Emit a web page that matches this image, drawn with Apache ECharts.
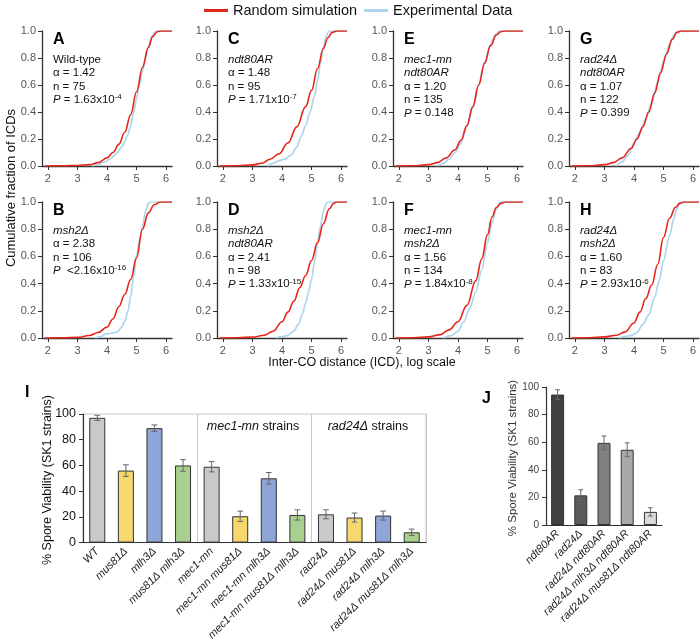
<!DOCTYPE html>
<html>
<head>
<meta charset="utf-8">
<script src="https://cdn.jsdelivr.net/npm/echarts@6/dist/echarts.min.js"></script>
<style>
html, body { margin: 0; padding: 0; background: #fff; }
#chart { width: 700px; height: 643px; }
</style>
</head>
<body>
<div id="chart"></div>
<script>
// cumulative fraction of ICDs, points are [log ICD, fraction]
var simA = [[1.9,0],[2.5,0.001],[3,0.004],[3.4,0.01],[3.7,0.025],[4,0.06],[4.2,0.1],[4.4,0.16],[4.6,0.25],[4.8,0.38],[5,0.55],[5.2,0.73],[5.4,0.88],[5.55,0.96],[5.7,0.995],[5.85,1],[6.2,1]];
var expA = [[3.5,0],[3.7,0.01],[3.9,0.03],[4.1,0.05],[4.3,0.09],[4.5,0.14],[4.6,0.18],[4.7,0.23],[4.8,0.3],[4.9,0.4],[5,0.5],[5.1,0.6],[5.2,0.7],[5.3,0.8],[5.4,0.88],[5.5,0.95],[5.6,0.99],[5.7,1],[6.2,1]];
var simC = [[1.9,0],[2.5,0.002],[3,0.008],[3.3,0.02],[3.6,0.05],[3.9,0.09],[4.2,0.17],[4.5,0.29],[4.8,0.44],[5,0.56],[5.2,0.72],[5.4,0.87],[5.55,0.95],[5.7,0.99],[5.85,1],[6.2,1]];
var expC = [[3.5,0],[3.7,0.02],[3.9,0.04],[4.1,0.05],[4.3,0.08],[4.5,0.14],[4.65,0.22],[4.8,0.3],[4.95,0.4],[5.1,0.52],[5.2,0.63],[5.3,0.76],[5.4,0.88],[5.5,0.96],[5.58,1],[6.2,1]];
var simE = [[1.9,0],[2.5,0.002],[3,0.01],[3.3,0.025],[3.6,0.06],[3.9,0.12],[4.1,0.19],[4.3,0.3],[4.5,0.44],[4.7,0.6],[4.9,0.76],[5.1,0.89],[5.3,0.97],[5.45,0.995],[5.6,1],[6.2,1]];
var expE = [[3.3,0],[3.5,0.02],[3.7,0.05],[3.9,0.1],[4.1,0.17],[4.3,0.29],[4.5,0.43],[4.7,0.6],[4.9,0.77],[5.1,0.9],[5.25,0.97],[5.4,1],[6.2,1]];
var simG = [[1.9,0],[2.5,0.002],[3,0.01],[3.3,0.025],[3.6,0.06],[3.9,0.13],[4.1,0.2],[4.3,0.29],[4.5,0.4],[4.7,0.54],[4.9,0.69],[5.1,0.83],[5.3,0.94],[5.45,0.99],[5.6,1],[6.2,1]];
var expG = [[3.4,0],[3.6,0.03],[3.8,0.08],[4,0.17],[4.2,0.25],[4.4,0.35],[4.6,0.47],[4.8,0.62],[5,0.77],[5.2,0.9],[5.35,0.97],[5.5,1],[6.2,1]];
var simB = [[1.9,0],[2.5,0.001],[3,0.005],[3.4,0.018],[3.7,0.04],[4,0.08],[4.2,0.14],[4.4,0.23],[4.6,0.32],[4.8,0.43],[5,0.59],[5.2,0.8],[5.4,0.92],[5.6,0.98],[5.8,1],[6.2,1]];
var expB = [[3.6,0],[3.8,0.01],[3.95,0.03],[4.15,0.035],[4.35,0.045],[4.5,0.08],[4.6,0.12],[4.7,0.19],[4.8,0.3],[4.9,0.45],[5,0.6],[5.1,0.72],[5.2,0.82],[5.3,0.93],[5.4,0.99],[5.45,1],[6.2,1]];
var simD = [[1.9,0],[2.5,0.002],[3,0.007],[3.4,0.02],[3.7,0.05],[4,0.12],[4.2,0.19],[4.4,0.27],[4.6,0.37],[4.8,0.46],[5,0.57],[5.2,0.7],[5.4,0.84],[5.6,0.95],[5.75,0.99],[5.85,1],[6.2,1]];
var expD = [[3.8,0],[4,0.01],[4.2,0.02],[4.4,0.05],[4.55,0.1],[4.7,0.18],[4.8,0.26],[4.9,0.34],[5,0.43],[5.1,0.56],[5.2,0.7],[5.3,0.82],[5.4,0.93],[5.5,0.99],[5.55,1],[6.2,1]];
var simF = [[1.9,0],[2.5,0.002],[3,0.008],[3.4,0.025],[3.7,0.06],[4,0.12],[4.3,0.24],[4.6,0.42],[4.8,0.58],[5,0.76],[5.15,0.89],[5.3,0.96],[5.45,0.99],[5.6,1],[6.2,1]];
var expF = [[3.5,0],[3.8,0.02],[4,0.05],[4.2,0.12],[4.4,0.22],[4.6,0.34],[4.8,0.5],[5,0.7],[5.15,0.85],[5.3,0.95],[5.45,1],[6.2,1]];
var simH = [[1.9,0],[2.5,0.002],[3,0.008],[3.4,0.02],[3.7,0.045],[4,0.11],[4.2,0.19],[4.4,0.29],[4.6,0.39],[4.8,0.54],[5,0.74],[5.2,0.88],[5.4,0.96],[5.55,0.99],[5.7,1],[6.2,1]];
var expH = [[3.5,0],[3.7,0.01],[3.9,0.02],[4.1,0.04],[4.3,0.1],[4.5,0.17],[4.7,0.3],[4.85,0.42],[5,0.57],[5.2,0.75],[5.35,0.88],[5.45,0.95],[5.55,1],[6.2,1]];

var icdTicks = [2, 3, 4, 5, 6];

// panel order: top row A C E G, bottom row B D F H
var panelLetters = ['A', 'C', 'E', 'G', 'B', 'D', 'F', 'H'];
var simData = [simA, simC, simE, simG, simB, simD, simF, simH];
var expData = [expA, expC, expE, expG, expB, expD, expF, expH];
var panelText = [
    ['Wild-type', 'α = 1.42', 'n = 75', '{i|P} = 1.63x10{s|-4}'],
    ['{i|ndt80AR}', 'α = 1.48', 'n = 95', '{i|P} = 1.71x10{s|-7}'],
    ['{i|mec1-mn}', '{i|ndt80AR}', 'α = 1.20', 'n = 135', '{i|P} = 0.148'],
    ['{i|rad24Δ}', '{i|ndt80AR}', 'α = 1.07', 'n = 122', '{i|P} = 0.399'],
    ['{i|msh2Δ}', 'α = 2.38', 'n = 106', '{i|P}  <2.16x10{s|-16}'],
    ['{i|msh2Δ}', '{i|ndt80AR}', 'α = 2.41', 'n = 98', '{i|P} = 1.33x10{s|-15}'],
    ['{i|mec1-mn}', '{i|msh2Δ}', 'α = 1.56', 'n = 134', '{i|P} = 1.84x10{s|-8}'],
    ['{i|rad24Δ}', '{i|msh2Δ}', 'α = 1.60', 'n = 83', '{i|P} = 2.93x10{s|-6}']
];

// panel I spore viability
var strainsI = ['WT', 'mus81Δ', 'mlh3Δ', 'mus81Δ mlh3Δ', 'mec1-mn', 'mec1-mn mus81Δ', 'mec1-mn mlh3Δ', 'mec1-mn mus81Δ mlh3Δ', 'rad24Δ', 'rad24Δ mus81Δ', 'rad24Δ mlh3Δ', 'rad24Δ mus81Δ mlh3Δ'];
var viabilityI = [97, 56, 89, 60, 59, 20.5, 50, 21.5, 22, 19.5, 21, 8];
var errorI = [2, 4.5, 2.5, 4.5, 4, 4, 4.5, 4, 3.5, 3.5, 3.5, 2.5];

// panel J spore viability
var strainsJ = ['ndt80AR', 'rad24Δ', 'rad24Δ ndt80AR', 'rad24Δ mlh3Δ ndt80AR', 'rad24Δ mus81Δ ndt80AR'];
var viabilityJ = [94.5, 21.5, 59.5, 54.5, 9.5];
var errorJ = [3.5, 4, 5, 5, 3];

var colorsI = ['#c9c9c9', '#f6d86f', '#8fa5d8', '#a9d08e', '#c9c9c9', '#f6d86f', '#8fa5d8', '#a9d08e', '#c9c9c9', '#f6d86f', '#8fa5d8', '#a9d08e'];
var colorsJ = ['#404040', '#5a5a5a', '#7f7f7f', '#a8a8a8', '#dadada'];

var FONT = 'Liberation Sans, Arial, sans-serif';
var RED = '#e5261b';
var BLUE = '#acd5ea';

var colX = [42, 217, 393, 569];
var rowTop = [31, 202];

var grids = [], xAxes = [], yAxes = [], series = [], graphics = [];

for (let i = 0; i < 8; i++) {
    let col = i % 4, row = Math.floor(i / 4);
    grids.push({ left: colX[col], top: rowTop[row], width: 130, height: row ? 136 : 135 });
    xAxes.push({
        gridIndex: i, type: 'value', min: 1.8, max: 6.2,
        axisLine: { lineStyle: { color: '#333', width: 1.3 } },
        axisTick: { show: true, customValues: icdTicks, length: 4, lineStyle: { color: '#333' } },
        axisLabel: { customValues: icdTicks, color: '#555', fontSize: 11, fontFamily: FONT, margin: 7 },
        splitLine: { show: false }
    });
    yAxes.push({
        gridIndex: i, type: 'value', min: 0, max: 1, interval: 0.2,
        axisLine: { show: true, lineStyle: { color: '#333', width: 1.3 } },
        axisTick: { show: true, length: 4, lineStyle: { color: '#333' } },
        axisLabel: { color: '#555', fontSize: 11, fontFamily: FONT, margin: 6, formatter: v => v.toFixed(1) },
        splitLine: { show: false }
    });
    series.push({
        name: 'Experimental Data', type: 'line', xAxisIndex: i, yAxisIndex: i,
        data: expData[i], showSymbol: false, smooth: 0.3, smoothMonotone: 'x',
        lineStyle: { color: BLUE, width: 1.7 }, itemStyle: { color: BLUE }
    });
    series.push({
        name: 'Random simulation', type: 'line', xAxisIndex: i, yAxisIndex: i,
        data: simData[i], showSymbol: false, smooth: 0.4, smoothMonotone: 'x',
        lineStyle: { color: RED, width: 1.6 }, itemStyle: { color: RED }
    });
    graphics.push({
        type: 'text', left: colX[col] + 11, top: rowTop[row] + 1,
        style: { text: panelLetters[i], font: 'bold 16px ' + FONT, fill: '#000' }
    });
    graphics.push({
        type: 'text', left: colX[col] + 11, top: rowTop[row] + 22,
        style: {
            text: panelText[i].join('\n'), fontSize: 11.5, fontFamily: FONT, fill: '#111', lineHeight: 13.4,
            rich: {
                i: { fontStyle: 'italic', fontSize: 11.5, fontFamily: FONT, fill: '#111', lineHeight: 13.4 },
                s: { fontSize: 8, fontFamily: FONT, fill: '#111', lineHeight: 8, verticalAlign: 'top' }
            }
        }
    });
}

// error bars drawn through the axis scales
function errorBars(params, api) {
    let x = api.value(0), y = api.value(1), e = api.value(2);
    let hi = api.coord([x, y + e]);
    let lo = api.coord([x, y - e]);
    let half = api.size([1, 0])[0] * 0.1;
    let st = { stroke: '#666', lineWidth: 1 };
    return {
        type: 'group',
        children: [
            { type: 'line', shape: { x1: hi[0], y1: hi[1], x2: lo[0], y2: lo[1] }, style: st },
            { type: 'line', shape: { x1: hi[0] - half, y1: hi[1], x2: hi[0] + half, y2: hi[1] }, style: st },
            { type: 'line', shape: { x1: lo[0] - half, y1: lo[1], x2: lo[0] + half, y2: lo[1] }, style: st }
        ]
    };
}

// panel I
grids.push({ left: 83, top: 414, width: 343, height: 134, show: true, borderColor: '#c8c8c8', borderWidth: 1 });
xAxes.push({
    gridIndex: 8, type: 'category', data: strainsI,
    axisLine: { lineStyle: { color: '#333', width: 1.2 } },
    axisTick: { length: 4, lineStyle: { color: '#333' } },
    axisLabel: { interval: 0, rotate: 45, fontSize: 11, fontStyle: 'italic', fontFamily: FONT, color: '#222', margin: 7 },
    splitLine: { show: true, interval: function (idx) { return idx == 4 || idx == 8; }, lineStyle: { color: '#c8c8c8', width: 1 } }
});
yAxes.push({
    gridIndex: 8, type: 'value', min: 0, max: 100, interval: 20,
    axisLine: { show: true, lineStyle: { color: '#333', width: 1.2 } },
    axisTick: { show: true, length: 4, lineStyle: { color: '#333' } },
    axisLabel: { fontSize: 12.5, fontFamily: FONT, color: '#111', margin: 7 },
    splitLine: { show: false }
});
series.push({
    type: 'bar', xAxisIndex: 8, yAxisIndex: 8, barWidth: '56%',
    data: viabilityI.map((v, k) => ({ value: v, itemStyle: { color: colorsI[k] } })),
    itemStyle: { borderColor: '#333', borderWidth: 1 }
});
series.push({
    type: 'custom', xAxisIndex: 8, yAxisIndex: 8, renderItem: errorBars, z: 5,
    data: viabilityI.map((v, k) => [k, v, errorI[k]])
});

// panel J
grids.push({ left: 546, top: 387, width: 116, height: 138 });
xAxes.push({
    gridIndex: 9, type: 'category', data: strainsJ,
    axisLine: { lineStyle: { color: '#333', width: 1.2 } },
    axisTick: { length: 4, lineStyle: { color: '#333' } },
    axisLabel: { interval: 0, rotate: 45, fontSize: 11, fontStyle: 'italic', fontFamily: FONT, color: '#222', margin: 7 },
    splitLine: { show: false }
});
yAxes.push({
    gridIndex: 9, type: 'value', min: 0, max: 100, interval: 20,
    axisLine: { show: true, lineStyle: { color: '#333', width: 1.2 } },
    axisTick: { show: true, length: 4, lineStyle: { color: '#333' } },
    axisLabel: { fontSize: 10, fontFamily: FONT, color: '#444', margin: 7 },
    splitLine: { show: false }
});
series.push({
    type: 'bar', xAxisIndex: 9, yAxisIndex: 9, barWidth: '56%',
    data: viabilityJ.map((v, k) => ({ value: v, itemStyle: { color: colorsJ[k] } })),
    itemStyle: { borderColor: '#333', borderWidth: 1 }
});
series.push({
    type: 'custom', xAxisIndex: 9, yAxisIndex: 9, renderItem: errorBars, z: 5,
    data: viabilityJ.map((v, k) => [k, v, errorJ[k]])
});

// titles and labels
graphics.push(
    { type: 'text', x: 11, y: 188, rotation: Math.PI / 2,
      style: { text: 'Cumulative fraction of ICDs', fontSize: 13, fontFamily: FONT, fill: '#111', align: 'center', verticalAlign: 'middle' } },
    { type: 'text', x: 362, y: 363,
      style: { text: 'Inter-CO distance (ICD), log scale', fontSize: 12.5, fontFamily: FONT, fill: '#111', align: 'center', verticalAlign: 'middle' } },
    { type: 'text', left: 25, top: 385, style: { text: 'I', font: 'bold 16px ' + FONT, fill: '#000' } },
    { type: 'text', left: 482, top: 391, style: { text: 'J', font: 'bold 16px ' + FONT, fill: '#000' } },
    { type: 'text', x: 48, y: 480, rotation: Math.PI / 2,
      style: { text: '% Spore Viability (SK1 strains)', fontSize: 12.5, fontFamily: FONT, fill: '#111', align: 'center', verticalAlign: 'middle' } },
    { type: 'text', x: 513, y: 458, rotation: Math.PI / 2,
      style: { text: '% Spore Viability (SK1 strains)', fontSize: 11.5, fontFamily: FONT, fill: '#333', align: 'center', verticalAlign: 'middle' } },
    { type: 'text', x: 253, y: 427,
      style: { text: '{i|mec1-mn} strains', fontSize: 12.5, fontFamily: FONT, fill: '#111', align: 'center', verticalAlign: 'middle',
               rich: { i: { fontStyle: 'italic', fontSize: 12.5, fontFamily: FONT, fill: '#111' } } } },
    { type: 'text', x: 368, y: 427,
      style: { text: '{i|rad24Δ} strains', fontSize: 12.5, fontFamily: FONT, fill: '#111', align: 'center', verticalAlign: 'middle',
               rich: { i: { fontStyle: 'italic', fontSize: 12.5, fontFamily: FONT, fill: '#111' } } } }
);

var myChart = echarts.init(document.getElementById('chart'));
var option = {
    animation: false,
    legend: {
        data: ['Random simulation', 'Experimental Data'],
        left: 204, top: 3, padding: 0, icon: 'rect', itemWidth: 24, itemHeight: 3, itemGap: 7,
        textStyle: { fontSize: 14.5, fontFamily: FONT, color: '#111' }
    },
    grid: grids,
    xAxis: xAxes,
    yAxis: yAxes,
    series: series,
    graphic: graphics
};
myChart.setOption(option);
</script>
</body>
</html>
